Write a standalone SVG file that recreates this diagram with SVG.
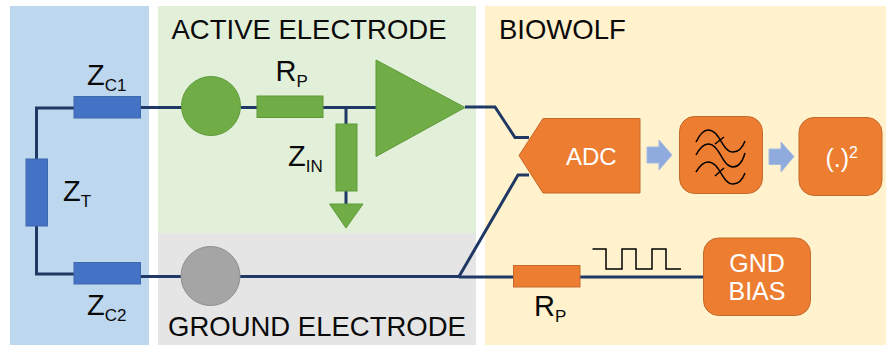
<svg xmlns="http://www.w3.org/2000/svg" width="886" height="345" viewBox="0 0 886 345">
<style>
text{font-family:"Liberation Sans",Arial,sans-serif;fill:#0a0a0a}
.h{font-size:27.500px}
.l{font-size:29px}
.s{font-size:17px}
.w{fill:#fff;font-size:24px}
.big{font-size:25px}
.pow{font-size:16px}
.wire{fill:none;stroke:#1f3864;stroke-width:3}
.blue{fill:#4472c4;stroke:#3f68ad;stroke-width:1}
.green{fill:#70ad47;stroke:#5f9a3a;stroke-width:1}
.orange{fill:#ed7d31;stroke:#c46a2c;stroke-width:1}
.arr{fill:#8faadc;stroke:#a5bbe2;stroke-width:1}
.ink{fill:none;stroke:#000;stroke-width:1.500}
</style>
<g id="panels">
<rect x="10" y="6" width="139" height="339" fill="#bdd7ee"/>
<rect x="158" y="6" width="318" height="227" fill="#e2f0d9"/>
<rect x="158" y="233" width="318" height="112" fill="#e5e5e5"/>
<rect x="485" y="6" width="401" height="339" fill="#fff2cc"/>
</g>
<g id="connectors">
<path class="wire" d="M74 108H36.500V159M36.500 226V274H74"/>
<path class="wire" d="M141 107.500H182M241 107.500H257M323 107.500H376M346 107.500V124M346 191V204"/>
<path class="wire" d="M465 107H495L515 137.500H529"/>
<path class="wire" d="M141 276.500H181M240 276.500H459L518 175H529"/>
<path class="wire" d="M459 277H514M580 277H704"/>
</g>
<g id="zc1"><rect class="blue" x="74" y="96.500" width="66.500" height="21.500"/><text class="l" x="87" y="85">Z<tspan class="s" dy="6">C1</tspan></text></g>
<g id="zt"><rect class="blue" x="26" y="159" width="21.500" height="67"/><text class="l" x="63" y="201">Z<tspan class="s" dy="6">T</tspan></text></g>
<g id="zc2"><rect class="blue" x="74" y="262.500" width="66.500" height="21.500"/><text class="l" x="87" y="315">Z<tspan class="s" dy="6">C2</tspan></text></g>
<g id="active-label"><text class="h" x="171.500" y="39">ACTIVE ELECTRODE</text></g>
<g id="active-electrode"><circle cx="211" cy="106" r="29.500" class="green"/></g>
<g id="rp-active"><rect class="green" x="257" y="96" width="66" height="21.500"/><text class="l" x="275.500" y="81">R<tspan class="s" dy="6">P</tspan></text></g>
<g id="zin"><rect class="green" x="336" y="124" width="21" height="67"/><text class="l" x="288" y="166">Z<tspan class="s" dy="6">IN</tspan></text></g>
<g id="ground-symbol"><path class="green" d="M329.500 204H363L346 228Z"/></g>
<g id="amplifier"><path class="green" d="M376 60L465 107.500L376 156.500Z"/></g>
<g id="ground-electrode"><circle cx="210.500" cy="276" r="29.500" fill="#a5a5a5" stroke="#8f8f8f"/></g>
<g id="ground-label"><text class="h" x="168" y="336">GROUND ELECTRODE</text></g>
<g id="biowolf-label"><text class="h" x="499" y="39">BIOWOLF</text></g>
<g id="adc"><path class="orange" d="M543 118.500H640V193H543L519 155.500Z"/><text class="w" x="566" y="165">ADC</text></g>
<g id="arrow1"><path class="arr" d="M647 147H659V140L672 155L659 170V163H647Z"/></g>
<g id="filter"><rect class="orange" x="679.500" y="116.500" width="83" height="77" rx="15"/>
<path class="ink" d="M696 142Q702 130 708 130C720 130 722 152 733 152Q741 152 745 141M696 155Q702 144 708 144C720 144 722 167 733 167Q741 167 745 153M696 172Q702 162 708 162C720 162 722 184 733 184Q741 184 745 173M715 144L724 137M715 176L724 168"/></g>
<g id="arrow2"><path class="arr" d="M769 149H781V142L794 156.500L781 172V164.500H769Z"/></g>
<g id="square"><rect class="orange" x="799" y="117.500" width="83" height="78" rx="15"/><text class="w big" x="825.500" y="167">(.)<tspan class="pow" dy="-9">2</tspan></text></g>
<g id="rp-bias"><rect class="orange" x="513.500" y="265.500" width="66.500" height="21.500"/><text class="l" x="534" y="316">R<tspan class="s" dy="6">P</tspan></text></g>
<g id="pulse"><path class="ink" d="M592.500 249H606V269H622V249H636V269H652V249H666V269H681"/></g>
<g id="gnd-bias"><rect class="orange" x="703.500" y="238" width="107" height="77.500" rx="15"/><text class="w big" text-anchor="middle" x="757" y="272">GND</text><text class="w big" text-anchor="middle" x="757" y="300">BIAS</text></g>
</svg>
